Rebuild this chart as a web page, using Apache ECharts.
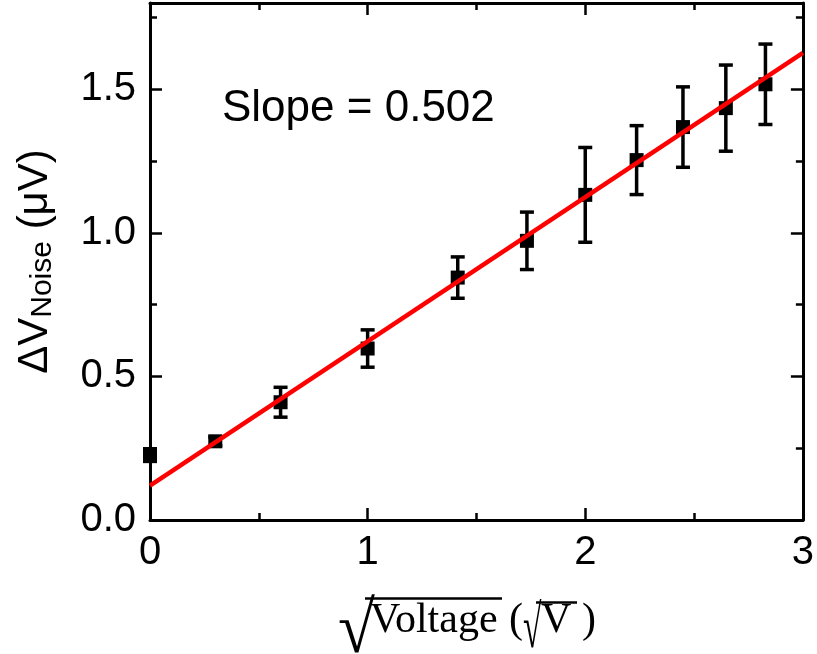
<!DOCTYPE html>
<html>
<head>
<meta charset="utf-8">
<script src="https://cdn.jsdelivr.net/npm/echarts@6/dist/echarts.min.js"></script>
<style>
  html, body { margin: 0; padding: 0; background: #fff; }
  #chart { width: 817px; height: 654px; }
</style>
</head>
<body>
<div id="chart"></div>
<script>
// sqrt(V) positions and measured noise amplitude (uV)
const sqrtVoltage = [0, 0.3, 0.6, 1.0, 1.414, 1.732, 2.0, 2.236, 2.449, 2.646, 2.828]
const noiseValues = [0.226, 0.274, 0.41, 0.597, 0.844, 0.972, 1.132, 1.253, 1.368, 1.434, 1.517]
const noiseErrors = [0.022, 0.015, 0.052, 0.065, 0.072, 0.1, 0.165, 0.12, 0.14, 0.15, 0.14]
// linear fit end points
const fitX = [0, 3]
const fitY = [0.12, 1.626]

const sans = '"Liberation Sans", Arial, sans-serif'
const serif = '"Liberation Serif", "DejaVu Serif", serif'

const chart = echarts.init(document.getElementById('chart'))

function boxAxis(extra) {
  return Object.assign({
    axisLine: { show: true, onZero: false, lineStyle: { color: '#000', width: 3 } },
    axisTick: { show: true, inside: true, length: 12, lineStyle: { color: '#000', width: 2.5 } },
    minorTick: { show: true, splitNumber: 2, length: 7, lineStyle: { color: '#000', width: 2.5 } },
    splitLine: { show: false },
    minorSplitLine: { show: false },
  }, extra)
}

const errorData = sqrtVoltage.map((x, i) => [x, noiseValues[i] - noiseErrors[i], noiseValues[i] + noiseErrors[i]])

const serifText = (x, y, text, size) => ({
  type: 'text', x, y,
  style: { text, font: size + 'px ' + serif, fill: '#000', align: 'left', verticalAlign: 'top' },
})

chart.setOption({
  animation: false,
  grid: { left: 150, right: 12, top: 3, bottom: 134 },
  xAxis: [
    boxAxis({
      type: 'value', min: 0, max: 3, interval: 1, position: 'bottom',
      axisLabel: { color: '#000', fontSize: 40, fontFamily: sans, margin: 13 },
    }),
    boxAxis({
      type: 'value', min: 0, max: 3, interval: 1, position: 'top',
      axisLabel: { show: false },
    }),
  ],
  yAxis: [
    boxAxis({
      type: 'value', min: 0, max: 1.8, interval: 0.5, position: 'left',
      axisLabel: {
        color: '#000', fontSize: 40, fontFamily: sans, margin: 14,
        formatter: (v) => v.toFixed(1),
        showMaxLabel: false,
      },
      name: '{d|ΔV}{s|Noise}{d| (μV)}',
      nameLocation: 'middle',
      nameRotate: 90,
      nameGap: 92,
      nameTextStyle: {
        rich: {
          d: { fontSize: 42, fontFamily: sans, color: '#000' },
          s: { fontSize: 30, fontFamily: sans, color: '#000', verticalAlign: 'bottom', padding: [16, 0, 0, 0] },
        },
      },
    }),
    boxAxis({
      type: 'value', min: 0, max: 1.8, interval: 0.5, position: 'right',
      axisLabel: { show: false },
    }),
  ],
  graphic: [
    {
      type: 'text', left: 222, top: 87,
      style: { text: 'Slope = 0.502', font: '44px ' + sans, fill: '#000' },
    },
    // x axis title: sqrt(Voltage) (sqrt V)
    Object.assign(serifText(338, 596, '√', 48), { scaleX: 1.4, scaleY: 1.52 }),
    { type: 'line', shape: { x1: 365, y1: 598.5, x2: 502, y2: 598.5 }, style: { stroke: '#000', lineWidth: 2.5 } },
    serifText(370, 600, 'Voltage', 42),
    serifText(509, 600, '(', 42),
    Object.assign(serifText(523, 601, '√', 42), { scaleX: 0.8, scaleY: 1.45 }),
    { type: 'line', shape: { x1: 536, y1: 602.5, x2: 577, y2: 602.5 }, style: { stroke: '#000', lineWidth: 2.5 } },
    serifText(541, 600, 'V', 42),
    serifText(582, 600, ')', 42),
  ],
  series: [
    {
      type: 'custom',
      data: errorData,
      clip: false,
      z: 3,
      renderItem: (params, api) => {
        const top = api.coord([api.value(0), api.value(2)])
        const bot = api.coord([api.value(0), api.value(1)])
        const w = 7
        const st = { stroke: '#000', lineWidth: 3.5 }
        return {
          type: 'group',
          children: [
            { type: 'line', shape: { x1: top[0], y1: top[1], x2: bot[0], y2: bot[1] }, style: st },
            { type: 'line', shape: { x1: top[0] - w, y1: top[1], x2: top[0] + w, y2: top[1] }, style: st },
            { type: 'line', shape: { x1: bot[0] - w, y1: bot[1], x2: bot[0] + w, y2: bot[1] }, style: st },
          ],
        }
      },
    },
    {
      type: 'scatter',
      data: sqrtVoltage.map((x, i) => [x, noiseValues[i]]),
      symbol: 'rect',
      symbolSize: 14,
      itemStyle: { color: '#000', opacity: 1 },
      z: 4,
    },
    {
      type: 'line',
      data: fitX.map((x, i) => [x, fitY[i]]),
      symbol: 'none',
      lineStyle: { color: '#ff0000', width: 4.5 },
      z: 5,
    },
  ],
})
</script>
</body>
</html>
